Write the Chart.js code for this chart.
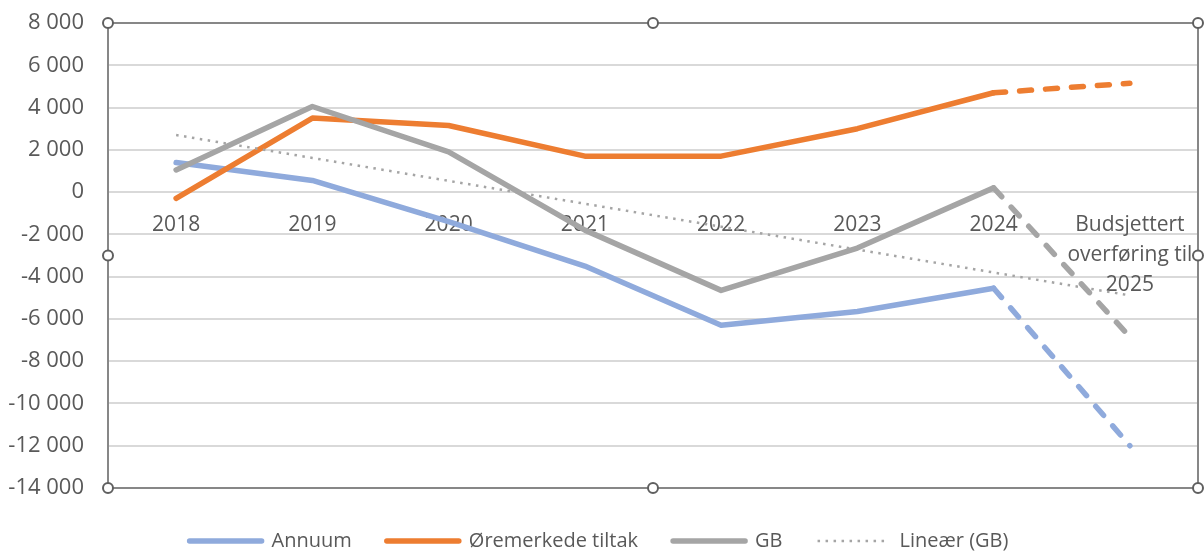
<!DOCTYPE html>
<html lang="no">
<head>
  <meta charset="UTF-8">
  <title>Annuum, øremerkede tiltak og GB</title>
  <script src="https://cdn.jsdelivr.net/npm/chart.js"></script>
  <style>
    html, body { margin: 0; padding: 0; background: #fff; }
    #wrap { width: 1204px; height: 553px; }
  </style>
</head>
<body>
  <div id="wrap"><canvas id="chart"></canvas></div>

  <script>
    // Data
    const categories = ['2018', '2019', '2020', '2021', '2022', '2023', '2024', ['Budsjettert', 'overføring til', '2025']];
    const annuum = [1400, 550, -1400, -3500, -6300, -5650, -4550, -12000];
    const oremerkede = [-300, 3500, 3150, 1700, 1700, 3000, 4700, 5150];
    const gb = [1050, 4050, 1900, -1800, -4650, -2650, 200, -6850];
    const yMin = -14000;
    const yMax = 8000;
    const yStep = 2000;

    // Linear trendline (GB), least squares like Excel
    function linearTrend(values) {
      const n = values.length;
      const xs = values.map((v, i) => i + 1);
      const mx = xs.reduce((a, b) => a + b, 0) / n;
      const my = values.reduce((a, b) => a + b, 0) / n;
      let sxy = 0, sxx = 0;
      xs.forEach((x, i) => {
        sxy += (x - mx) * (values[i] - my);
        sxx += (x - mx) * (x - mx);
      });
      const slope = sxy / sxx;
      return xs.map(x => my + slope * (x - mx));
    }
    const gbTrend = linearTrend(gb);

    const lastIdx = categories.length - 1;
    const dashLast = ctx => ctx.p1DataIndex === lastIdx ? [12, 14] : undefined;

    function fmt(v) {
      const s = Math.abs(v).toString().replace(/\B(?=(\d{3})+(?!\d))/g, ' ');
      return (v < 0 ? '-' : '') + s;
    }

    // Plot-area frame with selection handles
    const frame = {
      id: 'frame',
      afterDraw(chart) {
        const { ctx, chartArea: a } = chart;
        ctx.save();
        ctx.strokeStyle = '#878787';
        ctx.lineWidth = 2;
        ctx.strokeRect(a.left, a.top, a.right - a.left, a.bottom - a.top);
        const mx = (a.left + a.right) / 2, my = (a.top + a.bottom) / 2;
        const pts = [[a.left, a.top], [mx, a.top], [a.right, a.top], [a.left, my], [a.right, my],
                     [a.left, a.bottom], [mx, a.bottom], [a.right, a.bottom]];
        ctx.strokeStyle = '#5f5f5f';
        ctx.fillStyle = '#fff';
        pts.forEach(p => {
          ctx.beginPath();
          ctx.arc(p[0], p[1], 5, 0, Math.PI * 2);
          ctx.fill();
          ctx.stroke();
        });
        ctx.restore();
      }
    };

    Chart.defaults.font.family = '"Open Sans", sans-serif';
    Chart.defaults.color = '#595959';

    function series(label, data, color, order) {
      return {
        label: label,
        data: data,
        borderColor: color,
        backgroundColor: color,
        borderWidth: 5.5,
        borderJoinStyle: 'round',
        borderCapStyle: 'round',
        pointRadius: 0,
        order: order,
        segment: { borderDash: dashLast }
      };
    }

    new Chart(document.getElementById('chart'), {
      type: 'line',
      data: {
        labels: categories,
        datasets: [
          series('Annuum', annuum, '#8FAADC', 4),
          series('Øremerkede tiltak', oremerkede, '#ED7D31', 3),
          series('GB', gb, '#A5A5A5', 2),
          {
            label: 'Lineær (GB)',
            data: gbTrend,
            borderColor: '#A5A5A5',
            backgroundColor: '#A5A5A5',
            borderWidth: 2.5,
            borderDash: [2.5, 5.5],
            pointRadius: 0,
            order: 1
          }
        ]
      },
      options: {
        responsive: true,
        maintainAspectRatio: false,
        animation: false,
        layout: { padding: { top: 23, right: 6, left: 0, bottom: -8 } },
        scales: {
          x: {
            position: { y: 0 },
            offset: true,
            afterFit(scale) { scale.paddingLeft = 0; scale.paddingRight = 0; },
            grid: { display: false, drawTicks: false },
            border: { display: false },
            ticks: {
              autoSkip: false,
              maxRotation: 0,
              padding: 18,
              font: { size: 21, lineHeight: 30 / 21 },
              color: '#595959'
            }
          },
          y: {
            min: yMin,
            max: yMax,
            afterFit(scale) { scale.width = 108; scale.paddingTop = 0; scale.paddingBottom = 0; },
            grid: { color: '#D9D9D9', lineWidth: 2, drawTicks: false },
            border: { display: false },
            ticks: {
              stepSize: yStep,
              padding: 24,
              font: { size: 22 },
              color: '#595959',
              callback: v => fmt(v)
            }
          }
        },
        plugins: {
          tooltip: { enabled: false },
          legend: {
            position: 'bottom',
            title: { display: true, text: ' ', font: { size: 2, lineHeight: 1 }, padding: { top: 6, bottom: 0 } },
            labels: {
              usePointStyle: true,
              pointStyle: 'line',
              pointStyleWidth: 72,
              boxWidth: 72,
              boxHeight: 5,
              padding: 35,
              font: { size: 20 },
              color: '#595959',
              sort: (a, b) => a.datasetIndex - b.datasetIndex,
              generateLabels(chart) {
                const items = Chart.defaults.plugins.legend.labels.generateLabels(chart);
                items.forEach(it => {
                  const ds = chart.data.datasets[it.datasetIndex];
                  it.lineDash = ds.borderDash || [];
                  it.lineWidth = ds.borderWidth;
                  it.lineCap = ds.borderDash ? 'butt' : 'round';
                });
                return items;
              }
            }
          }
        }
      },
      plugins: [frame]
    });
  </script>
</body>
</html>
